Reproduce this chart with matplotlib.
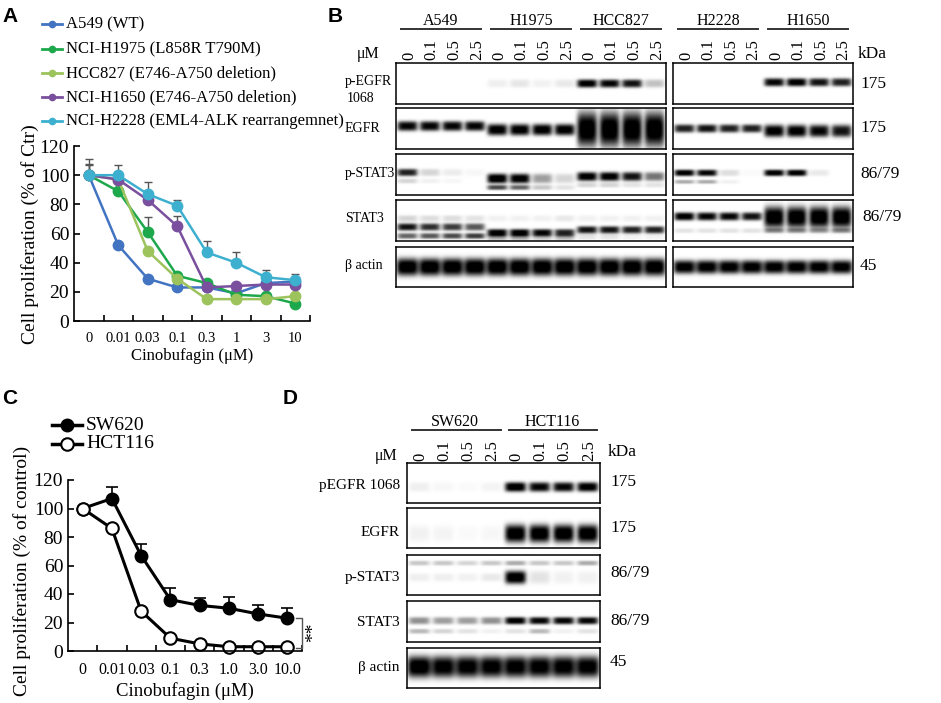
import numpy as np
import matplotlib
matplotlib.use("Agg")
import matplotlib.pyplot as plt
from matplotlib.lines import Line2D

# ---------------- data ----------------
doses = ["0", "0.01", "0.03", "0.1", "0.3", "1", "3", "10"]
doses_c = ["0", "0.01", "0.03", "0.1", "0.3", "1.0", "3.0", "10.0"]

a549 = [100, 52, 29, 23, 23, 19, 26, 27]
h1975 = [100, 89, 61, 31, 26, 18, 17, 12]
hcc827 = [100, 97, 48, 29, 15, 15, 15, 17]
h1650 = [100, 97, 83, 65, 23, 24, 25, 25]
h2228 = [100, 100, 87, 79, 47, 40, 30, 28]
h1975_err = [7, 0, 10, 0, 0, 0, 0, 0]
h1650_err = [8, 0, 0, 7, 0, 0, 0, 0]
h2228_err = [11, 7, 8, 4, 8, 7, 5, 4]

names_a = ["A549 (WT)", "NCI-H1975 (L858R T790M)", "HCC827 (E746-A750 deletion)",
           "NCI-H1650 (E746-A750 deletion)", "NCI-H2228 (EML4-ALK rearrangemnet)"]
colors_a = ["#4274c2", "#1ea84c", "#9cc35c", "#7a509e", "#3eb0cf"]

sw620 = [100, 107, 67, 36, 32, 30, 26, 23]
sw620_err = [0, 8, 8, 8, 5, 8, 6, 7]
hct116 = [100, 86, 28, 9, 5, 3, 3, 3]

blot_doses = ["0", "0.1", "0.5", "2.5"]
groups_b_left = ["A549", "H1975", "HCC827"]
groups_b_right = ["H2228", "H1650"]
groups_d = ["SW620", "HCT116"]
rows_b = ["p-EGFR", "EGFR", "p-STAT3", "STAT3", "\u03b2 actin"]
rows_d = ["pEGFR 1068", "EGFR", "p-STAT3", "STAT3", "\u03b2 actin"]
kda_b = ["175", "175", "86/79", "86/79", "45"]
kda_d = ["175", "175", "86/79", "86/79", "45"]

# band intensities (0 = none, 1 = saturated), one value per lane
b_pegfr_l = [0, 0, 0, 0, .06, .09, .05, .08, .95, .9, .85, .22]
b_pegfr_r = [0, 0, 0, 0, .9, .95, .85, .8]
b_egfr_l = [.9, .9, .9, .9, .95, .95, .95, .95, 1, 1, 1, 1]
b_egfr_r = [.8, .85, .8, .8, .95, .95, .9, .85]
b_pstat3_l = [.8, .15, .07, .03, 1, .95, .35, .15, .95, .95, .85, .5]
b_pstat3_l2 = [.15, .05, .03, 0, .65, .55, .2, .1, .15, .15, .1, .1]
b_pstat3_r = [.95, .9, .12, .02, .95, .95, .08, 0]
b_pstat3_r2 = [.3, .3, .05, 0, 0, 0, 0, 0]
b_stat3_l0 = [.15, .12, .12, .1, .05, .05, .05, .08, .05, .05, .05, .05]
b_stat3_l = [.85, .75, .7, .6, .95, .95, .9, .8, .85, .85, .8, .8]
b_stat3_l2 = [.55, .6, .65, .7, .3, .3, .2, .25, .1, .1, .05, .05]
b_stat3_r = [.95, .9, .9, .85, 1, 1, 1, 1]
b_stat3_r2 = [.1, .1, .1, .1, .35, .35, .3, .35]
b_actin_l = [1] * 12
b_actin_r = [.95] * 8

d_pegfr = [.06, .03, .02, .04, 1, .9, .9, .95]
d_egfr = [.05, .04, .02, .03, 1, 1, 1, 1]
d_pstat3_top = [.2, .2, .15, .2, .3, .2, .2, .3]
d_pstat3 = [.06, .06, .05, .08, 1, .1, .05, .05]
d_stat3 = [.4, .35, .35, .4, .95, .9, .9, .9]
d_stat3_2 = [.25, .15, .1, .05, .1, .25, .05, .1]
d_actin = [1, .95, .95, .95, .95, .95, .95, .95]

# ---------------- layout helpers ----------------
W, H = 941, 703
SERIF = "Liberation Serif"
SANS = "Liberation Sans"
fig = plt.figure(figsize=(W / 100, H / 100), dpi=100)


def fx(x):
    return x / W


def fy(y):
    return 1 - y / H


def add_ax(x0, y0, x1, y1):
    return fig.add_axes([fx(x0), fy(y1), (x1 - x0) / W, (y1 - y0) / H])


def txt(x, y, s, size=11, **kw):
    kw.setdefault("family", SERIF)
    fig.text(fx(x), fy(y), s, fontsize=size, **kw)


def blot(rect, n, bands, half=0.45):
    ax = add_ax(*rect)
    xs = np.linspace(-0.5, n - 0.5, 40 * n)
    ys = np.linspace(0, 1, 120)
    img = np.zeros((len(ys), len(xs)))
    for vals, yc, th in bands:
        yc = np.broadcast_to(yc, (n,))
        th = np.broadcast_to(th, (n,))
        for i, v in enumerate(vals):
            if v <= 0:
                continue
            px = np.exp(-(np.abs(xs - i) / half) ** 5)
            py = np.exp(-(np.abs(ys - yc[i]) / th[i]) ** 3)
            img += v * np.outer(py, px)
    ax.imshow(np.clip(img * 1.1, 0, 1), cmap="gray_r", vmin=0, vmax=1,
              extent=(-0.5, n - 0.5, 1, 0), aspect="auto", interpolation="bilinear")
    ax.set_xticks([])
    ax.set_yticks([])
    for s in ax.spines.values():
        s.set_linewidth(1.1)
    return ax


# ---------------- panel A ----------------
txt(2, 22, "A", 15, family=SANS, weight="bold")
axA = add_ax(74, 146, 310, 321)
series_a = [a549, h1975, hcc827, h1650, h2228]
errs_a = [None, h1975_err, None, h1650_err, h2228_err]
x = np.arange(len(doses))
for vals, err, c in zip(series_a, errs_a, colors_a):
    if err is not None:
        axA.errorbar(x, vals, yerr=[np.zeros(len(err)), err], fmt="none",
                     ecolor="#555555", elinewidth=1, capsize=3, capthick=1)
for vals, c in zip(series_a, colors_a):
    axA.plot(x, vals, "-o", color=c, lw=1.8, ms=7.5, mec=c, clip_on=False)
axA.set_xlim(-0.5, 7.5)
axA.set_ylim(0, 120)
axA.set_yticks(range(0, 121, 20))
axA.set_xticks(x)
axA.set_xticklabels(doses, fontsize=10.5, family=SERIF)
axA.set_xticks(x + 0.5, minor=True)
axA.tick_params(axis="x", which="major", length=0, pad=8)
axA.tick_params(axis="x", which="minor", direction="in", length=4, width=1.2)
axA.tick_params(axis="y", direction="in", length=4, width=1.2, labelsize=14)
for lab in axA.get_yticklabels():
    lab.set_family(SERIF)
for s in ["top", "right"]:
    axA.spines[s].set_visible(False)
for s in ["left", "bottom"]:
    axA.spines[s].set_linewidth(1.2)
axA.set_xlabel("Cinobufagin (\u03bcM)", fontsize=12, family=SERIF, labelpad=2)
txt(30, 234, "Cell proliferation (% of Ctr)", 14, rotation=90, ha="center", va="center")

leg_y = [24, 49, 73, 97, 121]
for yy, name, c in zip(leg_y, names_a, colors_a):
    fig.add_artist(Line2D([fx(42), fx(62)], [fy(yy), fy(yy)], color=c, lw=2))
    fig.add_artist(Line2D([fx(52)], [fy(yy)], color=c, marker="o", ms=4.5, lw=0))
    txt(66, yy, name, 12, va="center")

# ---------------- panel C ----------------
txt(2, 404, "C", 15, family=SANS, weight="bold")
axC = add_ax(68, 480, 302, 651)
axC.errorbar(x, sw620, yerr=[np.zeros(len(sw620_err)), sw620_err], fmt="none",
             ecolor="black", elinewidth=1.2, capsize=4, capthick=1.2)
axC.plot(x, sw620, "-o", color="black", lw=2.2, ms=9, clip_on=False)
axC.plot(x, hct116, "-o", color="black", lw=2.2, ms=9, mfc="white", mew=1.5, clip_on=False)
axC.set_xlim(-0.5, 7.5)
axC.set_ylim(0, 120)
axC.set_yticks(range(0, 121, 20))
axC.set_xticks(x)
axC.set_xticklabels(doses_c, fontsize=11.5, family=SERIF)
axC.set_xticks(x + 0.5, minor=True)
axC.tick_params(axis="x", which="major", length=0, pad=8)
axC.tick_params(axis="x", which="minor", direction="in", length=4, width=1.2)
axC.tick_params(axis="y", direction="in", length=4, width=1.2, labelsize=14)
for lab in axC.get_yticklabels():
    lab.set_family(SERIF)
for s in ["top", "right"]:
    axC.spines[s].set_visible(False)
for s in ["left", "bottom"]:
    axC.spines[s].set_linewidth(1.2)
axC.set_xlabel("Cinobufagin (\u03bcM)", fontsize=13.5, family=SERIF, labelpad=3)
txt(22, 571, "Cell proliferation (% of control)", 14, rotation=90, ha="center", va="center")
axC.plot([7.3, 7.5, 7.5, 7.3], [sw620[-1], sw620[-1], hct116[-1] - 1, hct116[-1] - 1],
         color="#555555", lw=1, clip_on=False)
axC.text(7.88, (sw620[-1] + hct116[-1]) / 2, "**", rotation=90, fontsize=14,
         family=SERIF, ha="center", va="center", clip_on=False)

fig.add_artist(Line2D([fx(52), fx(82)], [fy(425), fy(425)], color="black", lw=2.5))
fig.add_artist(Line2D([fx(67)], [fy(425)], color="black", marker="o", ms=9, lw=0))
fig.add_artist(Line2D([fx(52), fx(82)], [fy(444), fy(444)], color="black", lw=2.5))
fig.add_artist(Line2D([fx(67)], [fy(444)], color="black", marker="o", ms=9, lw=0,
                      mfc="white", mew=1.5))
txt(86, 425, "SW620", 14, va="center")
txt(86, 444, "HCT116", 14, va="center")

# ---------------- panel B ----------------
txt(328, 22, "B", 15, family=SANS, weight="bold")
rows_y_b = [(63, 104), (108, 149), (154, 195), (200, 241), (247, 287)]
left_x = (396, 666)
right_x = (673, 853)

bands_bl = [
    [(b_pegfr_l, 0.5, 0.1)],
    [(b_egfr_l, [.44] * 4 + [.53] * 4 + [.52] * 4, [.12] * 4 + [.14] * 4 + [.42] * 4)],
    [(b_pstat3_l, [.45] * 4 + [.6] * 4 + [.55] * 4, [.09] * 4 + [.12] * 4 + [.11] * 4),
     (b_pstat3_l2, [.66] * 4 + [.82] * 4 + [.76] * 4, 0.06)],
    [(b_stat3_l0, 0.45, 0.08),
     (b_stat3_l, [.66] * 4 + [.8] * 4 + [.73] * 4, 0.09),
     (b_stat3_l2, [.88] * 4 + [.92] * 4 + [.9] * 4, 0.07)],
    [(b_actin_l, 0.5, 0.22)],
]
bands_br = [
    [(b_pegfr_r, 0.47, 0.1)],
    [(b_egfr_r, [.5] * 4 + [.56] * 4, [.1] * 4 + [.15] * 4)],
    [(b_pstat3_r, 0.46, 0.08), (b_pstat3_r2, 0.68, 0.05)],
    [(b_stat3_r, [.4] * 4 + [.42] * 4, [.1] * 4 + [.26] * 4), (b_stat3_r2, 0.75, 0.06)],
    [(b_actin_r, 0.5, 0.17)],
]
for r, ((y0, y1), bl, br) in enumerate(zip(rows_y_b, bands_bl, bands_br)):
    half = 0.49 if r == 4 else 0.45
    blot((left_x[0], y0, left_x[1], y1), 12, bl, half)
    blot((right_x[0], y0, right_x[1], y1), 8, br, half)

lane_w = 22.5
for g, grp in enumerate(groups_b_left + groups_b_right):
    if g < 3:
        x0 = left_x[0] + g * 4 * lane_w
    else:
        x0 = right_x[0] + (g - 3) * 4 * lane_w
    fig.add_artist(Line2D([fx(x0 + 5), fx(x0 + 4 * lane_w - 5)], [fy(29), fy(29)],
                          color="#333333", lw=1.4))
    txt(x0 + 2 * lane_w, 25, grp, 11.5, ha="center")
    for k, d in enumerate(blot_doses):
        txt(x0 + (k + 0.5) * lane_w + 2, 60, d, 12, rotation=90, ha="center", va="bottom")
txt(357, 58, "\u03bcM", 11.5)
txt(858, 58, "kDa", 12.5)

row_label_y = [81, 129, 173, 219, 265]
for yy, lab in zip(row_label_y, rows_b):
    txt(345, yy, lab, 10, va="center")
txt(347, 99, "1068", 10, va="center")
kda_y_b = [84, 128, 174, 217, 266]
kda_x_b = [860, 860, 860, 862, 860]
for xx, yy, k in zip(kda_x_b, kda_y_b, kda_b):
    txt(xx, yy, k, 12.5, va="center")

# ---------------- panel D ----------------
txt(283, 404, "D", 15, family=SANS, weight="bold")
rows_y_d = [(463, 503), (508, 548), (555, 595), (601, 642), (648, 688)]
d_x = (407, 600)
bands_d = [
    [(d_pegfr, 0.6, 0.12)],
    [(d_egfr, 0.65, [.2] * 4 + [.22] * 4)],
    [(d_pstat3_top, 0.22, 0.06), (d_pstat3, 0.57, [.1] * 4 + [.16] * 4)],
    [(d_stat3, 0.48, 0.09), (d_stat3_2, 0.74, 0.06)],
    [(d_actin, 0.47, 0.27)],
]
for r, ((y0, y1), bd) in enumerate(zip(rows_y_d, bands_d)):
    blot((d_x[0], y0, d_x[1], y1), 8, bd, 0.5 if r == 4 else 0.44)

lane_d = (d_x[1] - d_x[0]) / 8
for g, grp in enumerate(groups_d):
    x0 = d_x[0] + g * 4 * lane_d
    fig.add_artist(Line2D([fx(x0 + 5), fx(x0 + 4 * lane_d - 3)], [fy(430), fy(430)],
                          color="#333333", lw=1.4))
    txt(x0 + 2 * lane_d, 426, grp, 11.5, ha="center")
    for k, d in enumerate(blot_doses):
        txt(x0 + (k + 0.5) * lane_d + 1, 461, d, 12, rotation=90, ha="center", va="bottom")
txt(375, 460, "\u03bcM", 11.5)
txt(608, 456, "kDa", 12.5)
row_label_y_d = [486, 533, 578, 622, 667]
for yy, lab in zip(row_label_y_d, rows_d):
    txt(400, yy, lab, 11, ha="right", va="center")
kda_y_d = [482, 528, 573, 621, 662]
for yy, k in zip(kda_y_d, kda_d):
    txt(610, yy, k, 12.5, va="center")

fig.savefig("out.png", dpi=100)
